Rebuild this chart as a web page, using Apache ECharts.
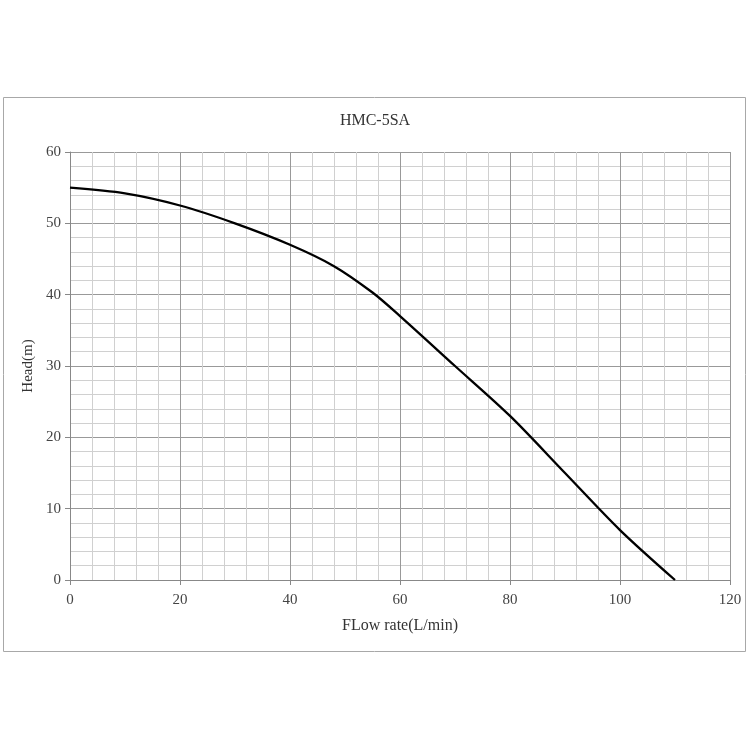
<!DOCTYPE html>
<html><head><meta charset="utf-8">
<script src="https://cdn.jsdelivr.net/npm/echarts@6/dist/echarts.min.js"></script>
<style>html,body{margin:0;padding:0;background:#fff}#c{width:750px;height:750px}</style>
</head><body><div id="c"></div>
<script>
const titleText = 'HMC-5SA';
const xName = 'FLow rate(L/min)';
const yName = 'Head(m)';
const flow = [0, 10, 20, 30, 40, 48, 55, 60, 70, 80, 90, 100, 110];
const head = [55, 54.2, 52.5, 50, 47, 44, 40.3, 37, 30, 23, 15, 7, 0];

const chart = echarts.init(document.getElementById('c'));
const fontSerif = '"Liberation Serif", "DejaVu Serif", serif';
chart.setOption({
  animation: false,
  title: { text: titleText, left: 'center', top: 108, textStyle: { fontFamily: fontSerif, fontWeight: 'normal', fontSize: 16, color: '#333' } },
  graphic: [{ type: 'rect', shape: { x: 3.5, y: 97.5, width: 742, height: 554 }, style: { fill: 'none', stroke: '#a8a8a8', lineWidth: 1 } }],
  grid: { left: 70, right: 20, top: 152, bottom: 170, containLabel: false },
  xAxis: {
    type: 'value', min: 0, max: 120, interval: 20,
    name: xName, nameLocation: 'middle', nameGap: 38,
    nameTextStyle: { fontFamily: fontSerif, fontSize: 16, color: '#333' },
    axisLine: { show: true, lineStyle: { color: '#888' } },
    axisTick: { show: true, length: 5, lineStyle: { color: '#888' } },
    axisLabel: { fontFamily: fontSerif, fontSize: 15, color: '#444', margin: 13 },
    splitLine: { show: true, lineStyle: { color: '#999', width: 1 } },
    minorTick: { show: false, splitNumber: 5 },
    minorSplitLine: { show: true, lineStyle: { color: '#d0d0d0', width: 1 } }
  },
  yAxis: {
    type: 'value', min: 0, max: 60, interval: 10,
    name: yName, nameLocation: 'middle', nameGap: 29,
    nameTextStyle: { fontFamily: fontSerif, fontSize: 15, color: '#333' },
    axisLine: { show: true, lineStyle: { color: '#888' } },
    axisTick: { show: true, length: 5, lineStyle: { color: '#888' } },
    axisLabel: { fontFamily: fontSerif, fontSize: 15, color: '#444', margin: 9 },
    splitLine: { show: true, lineStyle: { color: '#999', width: 1 } },
    minorTick: { show: false, splitNumber: 5 },
    minorSplitLine: { show: true, lineStyle: { color: '#d0d0d0', width: 1 } }
  },
  series: [{
    type: 'line', data: flow.map((x, i) => [x, head[i]]), smooth: 0.3, symbol: 'none',
    lineStyle: { color: '#000', width: 2.3 }
  }]
});
</script></body></html>
